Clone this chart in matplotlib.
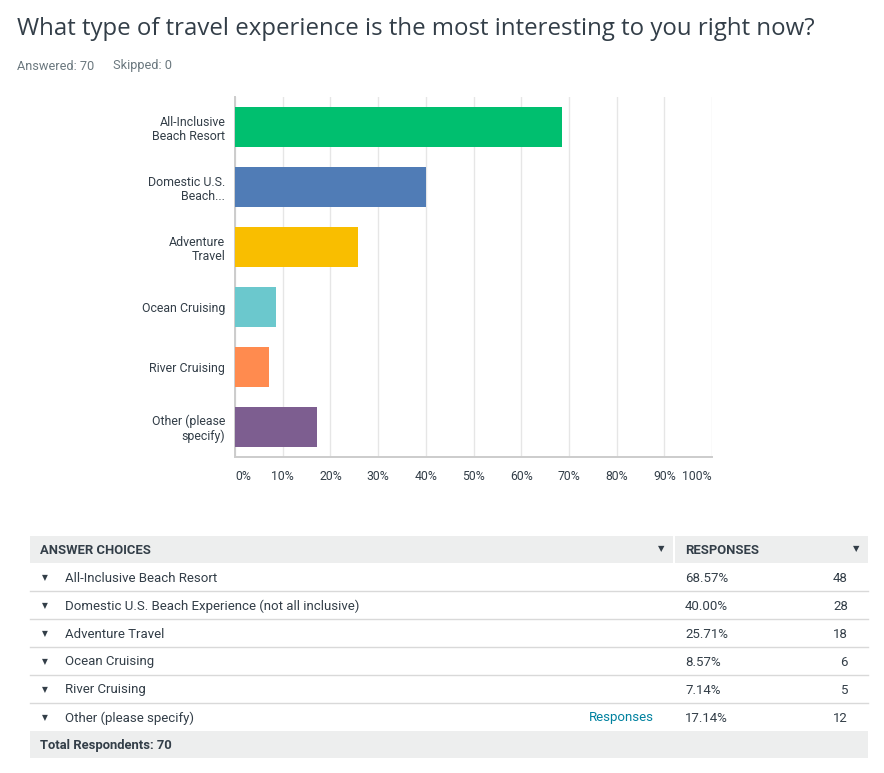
import matplotlib
matplotlib.use('Agg')
import matplotlib.pyplot as plt
from matplotlib.patches import Rectangle
from matplotlib import font_manager

# Survey results
bar_labels = ['All-Inclusive\nBeach Resort', 'Domestic U.S.\nBeach...', 'Adventure\nTravel',
              'Ocean Cruising', 'River Cruising', 'Other (please\nspecify)']
choices = ['All-Inclusive Beach Resort', 'Domestic U.S. Beach Experience (not all inclusive)',
           'Adventure Travel', 'Ocean Cruising', 'River Cruising', 'Other (please specify)']
pct = [68.57, 40.00, 25.71, 8.57, 7.14, 17.14]
counts = [48, 28, 18, 6, 5, 12]
colors = ['#00bf6f', '#507cb6', '#f9be00', '#6bc8cd', '#ff8b4f', '#7d5e90']
ticks = [0, 10, 20, 30, 40, 50, 60, 70, 80, 90, 100]
answered, skipped = 70, 0

W, H = 884, 773
names = {f.name for f in font_manager.fontManager.ttflist}
main_font = 'Roboto' if 'Roboto' in names else 'DejaVu Sans'
title_font = 'Open Sans' if 'Open Sans' in names else main_font
plt.rcParams['font.family'] = [main_font, 'DejaVu Sans']

dark = '#333e48'
grey = '#6b787f'

fig = plt.figure(figsize=(W / 100, H / 100), dpi=100)

# full-figure axes in pixel coordinates for title and table
bg = fig.add_axes([0, 0, 1, 1], zorder=0)
bg.set_xlim(0, W)
bg.set_ylim(H, 0)
bg.axis('off')

bg.text(17, 29, 'What type of travel experience is the most interesting to you right now?',
        fontsize=17.3, color=dark, va='center', ha='left', family=title_font)
bg.text(17, 66, f'Answered: {answered}', fontsize=9.2, color=grey, va='center')
bg.text(113, 66, f'Skipped: {skipped}', fontsize=9.2, color=grey, va='center')

# bar chart
ax = fig.add_axes([235 / W, 1 - 457 / H, (712 - 235) / W, (457 - 97) / H], zorder=2)
y = list(range(len(pct)))
ax.barh(y, pct, height=40 / 60, color=colors, zorder=3)
ax.set_xlim(0, 100)
ax.set_ylim(len(pct) - 0.5, -0.5)
ax.set_yticks(y)
ax.set_yticklabels(bar_labels, fontsize=8.9, color=dark, linespacing=1.12, ha='right')
ax.set_xticks(ticks)
ax.set_xticklabels([f'{t}%' for t in ticks], fontsize=8.8, color=dark)
for i, lab in enumerate(ax.get_xticklabels()):
    if i == 0:
        lab.set_ha('left')
    elif i == len(ticks) - 1:
        lab.set_ha('right')
ax.tick_params(axis='both', length=0)
ax.tick_params(axis='y', pad=7)
ax.tick_params(axis='x', pad=9)
ax.grid(axis='x', color='#e6e6e6', linewidth=1, zorder=0)
for s in ['top', 'right']:
    ax.spines[s].set_visible(False)
for s in ['left', 'bottom']:
    ax.spines[s].set_color('#cccccc')
    ax.spines[s].set_linewidth(1.4)
ax.set_axisbelow(True)

# summary table
tx0, tx1, split = 30, 868, 673
row_h = 28
head_top = 536
bg.add_patch(Rectangle((tx0, head_top), split - tx0, 27, color='#edeeee', lw=0))
bg.add_patch(Rectangle((split + 1.5, head_top), tx1 - split - 1.5, 27, color='#edeeee', lw=0))
hy = head_top + 14
bg.text(40, hy, 'ANSWER CHOICES', fontsize=9.4, color=dark, va='center', fontweight='bold')
bg.text(685, hy, 'RESPONSES', fontsize=9.4, color=dark, va='center', fontweight='bold')
bg.text(661, hy - 1, '\u25bc', fontsize=6, color=dark, va='center', ha='center',
        family='DejaVu Sans')
bg.text(856, hy - 1, '\u25bc', fontsize=6, color=dark, va='center', ha='center',
        family='DejaVu Sans')

for i, (c, p, n) in enumerate(zip(choices, pct, counts)):
    cy = 563 + row_h * i + row_h / 2 + 1
    bg.text(45, cy, '\u25bc', fontsize=5.5, color=dark, va='center', ha='center',
            family='DejaVu Sans')
    bg.text(65, cy, c, fontsize=9.5, color=dark, va='center')
    bg.text(685, cy, f'{p:.2f}%', fontsize=9.5, color=dark, va='center')
    bg.text(848, cy, str(n), fontsize=9.5, color=dark, va='center', ha='right')
    if i < len(choices) - 1:
        ly = 563 + row_h * (i + 1)
        bg.plot([tx0, tx1], [ly, ly], color='#d9d9d9', lw=1)
    if c.startswith('Other'):
        bg.text(654, cy, 'Responses', fontsize=9.5, color='#00819f', va='center', ha='right')

bg.add_patch(Rectangle((tx0, 731), tx1 - tx0, 27, color='#edeeee', lw=0))
bg.text(40, 745, f'Total Respondents: {answered}', fontsize=9.4, color=dark, va='center',
        fontweight='bold')

fig.savefig('out.png', dpi=100)
